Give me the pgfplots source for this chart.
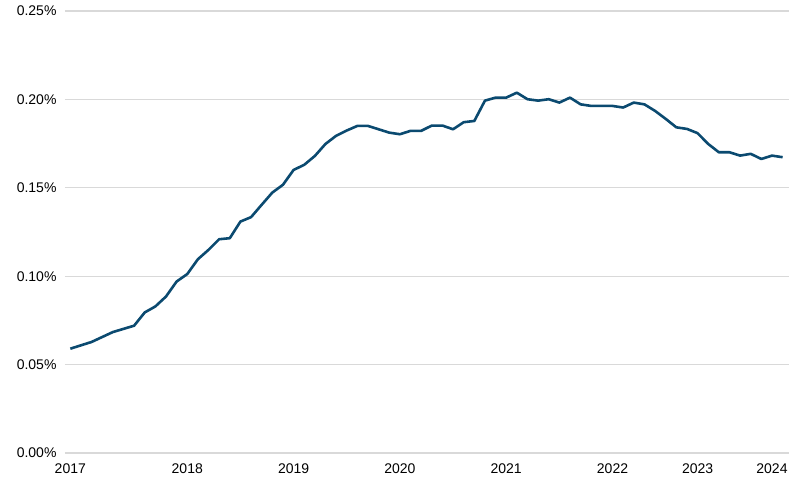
\documentclass[border=0pt]{standalone}
\usepackage{fontspec}
\setmainfont{Liberation Sans}
\usepackage{pgfplots}
\pgfplotsset{compat=1.18}
\usepackage{pgfplotstable}
\definecolor{lineblue}{HTML}{0B4A70}
\definecolor{gridgray}{HTML}{D9D9D9}
\pgfplotstableread{
i v
0 0.0590
1 0.0609
2 0.0628
3 0.0656
4 0.0684
5 0.0702
6 0.0720
7 0.0795
8 0.0829
9 0.0885
10 0.0970
11 0.1012
12 0.1096
13 0.1149
14 0.1209
15 0.1215
16 0.1309
17 0.1334
18 0.1404
19 0.1473
20 0.1517
21 0.1601
22 0.1630
23 0.1680
24 0.1748
25 0.1794
26 0.1824
27 0.1850
28 0.1850
29 0.1831
30 0.1812
31 0.1803
32 0.1822
33 0.1822
34 0.1852
35 0.1852
36 0.1831
37 0.1871
38 0.1878
39 0.1993
40 0.2010
41 0.2010
42 0.2038
43 0.2001
44 0.1993
45 0.2001
46 0.1982
47 0.2010
48 0.1972
49 0.1963
50 0.1963
51 0.1963
52 0.1954
53 0.1982
54 0.1972
55 0.1935
56 0.1890
57 0.1842
58 0.1833
59 0.1809
60 0.1748
61 0.1701
62 0.1701
63 0.1682
64 0.1692
65 0.1663
66 0.1682
67 0.1673
}\datatable
\begin{document}
\begin{tikzpicture}
\begin{axis}[
  scale only axis,
  width=724pt, height=442pt,
  xmin=-0.5, xmax=67.6,
  ymin=0, ymax=0.25,
  axis line style={draw=none},
  tick style={draw=none},
  ymajorgrids,
  grid style={gridgray, line width=1.3pt},
  ytick={0,0.05,0.10,0.15,0.20,0.25},
  yticklabel={\pgfmathprintnumber[fixed,fixed zerofill,precision=2]{\tick}\%},
  xtick={0,11,21,31,41,51,59,66},
  xticklabels={2017,2018,2019,2020,2021,2022,2023,2024},
  /pgf/number format/assume math mode=true,
  ticklabel style={font=\fontsize{14}{16}\selectfont},
  yticklabel style={xshift=-5pt},
  xticklabel style={yshift=-7pt},
  clip=false,
]
\addplot[lineblue, line width=2.6pt, line join=round] table[x=i,y=v] {\datatable};
\end{axis}
\path (-65pt,-34pt) (735pt,453pt);
\end{tikzpicture}
\end{document}
